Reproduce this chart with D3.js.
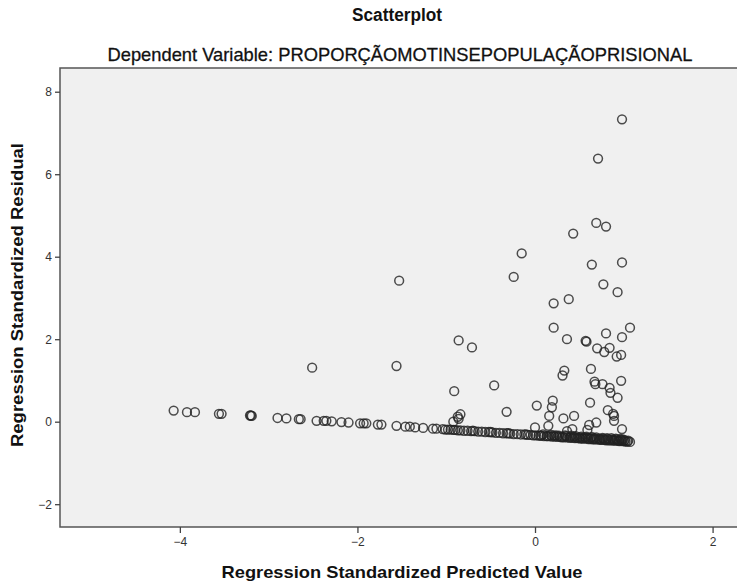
<!DOCTYPE html>
<html>
<head>
<meta charset="utf-8">
<script src="https://cdn.jsdelivr.net/npm/d3@7"></script>
<style>
  body { margin: 0; background: #fff; }
  svg { display: block; font-family: "Liberation Sans", Arial, sans-serif; }
</style>
</head>
<body>
<div id="chart"></div>
<script>
// left tail of the residual line
const tailPredicted = [-4.07, -3.92, -3.83, -3.56, -3.53, -3.21, -3.20, -3.19, -2.90, -2.80, -2.66, -2.64,
  -2.46, -2.38, -2.35, -2.29, -2.18, -2.10, -1.97, -1.93, -1.90, -1.77, -1.73, -1.56, -1.46, -1.41,
  -1.35, -1.26, -1.15, -1.11];
const tailResidual = [0.27, 0.23, 0.23, 0.19, 0.19, 0.15, 0.15, 0.14, 0.09, 0.08, 0.06, 0.06,
  0.02, 0.02, 0.02, 0.01, -0.01, -0.02, -0.04, -0.04, -0.04, -0.07, -0.07, -0.10, -0.12, -0.12,
  -0.14, -0.15, -0.17, -0.17];

// dense band on the right
const bandPredicted = [-1.04, -1.01, -0.98, -0.95, -0.92, -0.90, -0.87, -0.84, -0.80, -0.76, -0.72, -0.68,
  -0.64, -0.60, -0.56, -0.52, -0.48, -0.44, -0.40, -0.36, -0.32, -0.28, -0.24, -0.20, -0.16, -0.12,
  -0.08, -0.05, -0.02, 0.01, 0.04, 0.07, 0.10, 0.13, 0.16, 0.19, 0.22, 0.25, 0.28, 0.30, 0.33, 0.36,
  0.39, 0.42, 0.45, 0.48, 0.51, 0.54, 0.57, 0.60, 0.62, 0.65, 0.68, 0.70, 0.73, 0.75, 0.78, 0.80,
  0.83, 0.85, 0.88, 0.90, 0.93, 0.95, 0.98, 1.00, 1.02, 1.04, 1.07,
  0.21, 0.27, 0.35, 0.40, 0.44, 0.50, 0.56, 0.59, 0.63, 0.67, 0.72, 0.74, 0.77, 0.82, 0.87, 0.89,
  0.92, 0.97, 1.01, 1.05, -0.70, -0.50, -0.30, -0.10, 0.06, 0.14, 0.31, 0.47, 0.53, 0.66, 0.79, 0.94,
  0.09, 0.18, 0.24, 0.34, 0.41, 0.46, 0.52, 0.58, 0.64, 0.69, 0.76, 0.81, 0.86, 0.91, 0.96, 0.99];
const bandResidual = [-0.18, -0.19, -0.19, -0.19, -0.20, -0.20, -0.21, -0.21, -0.22, -0.22, -0.23, -0.23,
  -0.24, -0.24, -0.25, -0.25, -0.26, -0.27, -0.27, -0.28, -0.28, -0.29, -0.30, -0.30, -0.31, -0.31,
  -0.32, -0.32, -0.33, -0.33, -0.34, -0.34, -0.35, -0.35, -0.35, -0.36, -0.36, -0.37, -0.37, -0.38, -0.38, -0.38,
  -0.39, -0.39, -0.40, -0.40, -0.41, -0.41, -0.41, -0.42, -0.42, -0.43, -0.43, -0.43, -0.44, -0.44, -0.44, -0.45,
  -0.45, -0.45, -0.46, -0.46, -0.46, -0.47, -0.47, -0.47, -0.48, -0.48, -0.49,
  -0.33, -0.34, -0.35, -0.37, -0.36, -0.38, -0.38, -0.39, -0.39, -0.40, -0.41, -0.42, -0.41, -0.42, -0.43, -0.44,
  -0.43, -0.44, -0.45, -0.46, -0.22, -0.25, -0.28, -0.31, -0.34, -0.35, -0.37, -0.39, -0.40, -0.42, -0.44, -0.46,
  -0.31, -0.32, -0.33, -0.33, -0.34, -0.35, -0.36, -0.36, -0.37, -0.38, -0.39, -0.40, -0.40, -0.41, -0.42, -0.43];

// scattered cases above the line
const spreadPredicted = [-2.51, -1.56, -1.53, -0.91, -0.46, -0.86, -0.71, -0.24, -0.15, 0.43, 0.69, 0.80,
  0.71, 0.98, 0.64, 0.98, 0.77, 0.93, 0.21, 0.38, 0.21, 0.36, 0.58, 0.57, 0.80, 1.07, 0.98, 0.70,
  0.84, 0.78, 0.92, 0.97, 0.33, 0.31, 0.63, 0.67, 0.68, 0.76, 0.84, 0.85, 0.97, 0.93, 0.62, 0.82,
  0.88, 0.89, 0.89, 0.98, 0.69, 0.61, 0.59, 0.42, 0.36, 0.44, 0.32, 0.16, 0.15, 0.00, 0.02, 0.19,
  0.20, -0.32, -0.84, -0.86, -0.92, -0.87];
const spreadResidual = [1.31, 1.35, 3.42, 0.74, 0.88, 1.97, 1.80, 3.51, 4.08, 4.56, 4.82, 4.73,
  6.38, 7.33, 3.81, 3.86, 3.33, 3.14, 2.87, 2.97, 2.28, 2.00, 1.94, 1.96, 2.14, 2.28, 2.05, 1.78,
  1.79, 1.69, 1.58, 1.62, 1.24, 1.12, 1.28, 0.97, 0.91, 0.91, 0.82, 0.70, 0.99, 0.58, 0.46, 0.28,
  0.19, 0.14, 0.02, -0.18, -0.02, -0.08, -0.20, -0.18, -0.23, 0.14, 0.08, 0.14, -0.10, -0.14, 0.39, 0.35,
  0.51, 0.24, 0.18, 0.07, 0.00, 0.12];

const xTicks = [-4, -2, 0, 2];
const yTicks = [-2, 0, 2, 4, 6, 8];

const width = 737, height = 583;
const plot = { left: 60, right: 737, top: 68, bottom: 527 };

const svg = d3.select("#chart").append("svg")
  .attr("width", width)
  .attr("height", height);

const x = d3.scaleLinear().domain([-5.35, 2.275]).range([plot.left, plot.right]);
const y = d3.scaleLinear().domain([-2.553, 8.575]).range([plot.bottom, plot.top]);

// plot background, right border falls outside the picture
svg.append("rect")
  .attr("x", plot.left)
  .attr("y", plot.top)
  .attr("width", plot.right - plot.left + 4)
  .attr("height", plot.bottom - plot.top)
  .attr("fill", "#f0f0f0")
  .attr("stroke", "#555")
  .attr("stroke-width", 1.5);

// axes
const xAxis = svg.append("g")
  .attr("transform", `translate(0,${plot.bottom})`)
  .call(d3.axisBottom(x).tickValues(xTicks).tickSize(6).tickPadding(4).tickFormat(d3.format("d")));
const yAxis = svg.append("g")
  .attr("transform", `translate(${plot.left},0)`)
  .call(d3.axisLeft(y).tickValues(yTicks).tickSize(5).tickPadding(3).tickFormat(d3.format("d")));

[xAxis, yAxis].forEach(ax => {
  ax.select(".domain").remove();
  ax.selectAll(".tick line").attr("stroke", "#444").attr("stroke-width", 1.3);
  ax.selectAll(".tick text")
    .attr("fill", "#333")
    .style("font-size", "12px")
    .style("font-family", "'Liberation Sans', Arial, sans-serif");
});

// points
const points = [];
tailPredicted.forEach((v, i) => points.push([v, tailResidual[i]]));
bandPredicted.forEach((v, i) => points.push([v, bandResidual[i]]));
spreadPredicted.forEach((v, i) => points.push([v, spreadResidual[i]]));

svg.append("g")
  .selectAll("circle")
  .data(points)
  .enter()
  .append("circle")
  .attr("cx", d => x(d[0]))
  .attr("cy", d => y(d[1]))
  .attr("r", 4.4)
  .attr("fill", "none")
  .attr("stroke", "#222")
  .attr("stroke-opacity", 0.8)
  .attr("stroke-width", 1.5);

// titles
svg.append("text")
  .attr("x", 397)
  .attr("y", 21)
  .attr("text-anchor", "middle")
  .attr("textLength", 90)
  .attr("lengthAdjust", "spacingAndGlyphs")
  .style("font-size", "18px")
  .style("font-weight", "bold")
  .attr("fill", "#111")
  .text("Scatterplot");

svg.append("text")
  .attr("x", 400)
  .attr("y", 61)
  .attr("text-anchor", "middle")
  .attr("textLength", 585)
  .attr("lengthAdjust", "spacingAndGlyphs")
  .style("font-size", "19px")
  .attr("fill", "#111")
  .attr("stroke", "#111")
  .attr("stroke-width", 0.3)
  .text("Dependent Variable: PROPORÇÃOMOTINSEPOPULAÇÃOPRISIONAL");

svg.append("text")
  .attr("x", 402)
  .attr("y", 578)
  .attr("text-anchor", "middle")
  .attr("textLength", 361)
  .attr("lengthAdjust", "spacingAndGlyphs")
  .style("font-size", "17px")
  .style("font-weight", "bold")
  .attr("fill", "#111")
  .text("Regression Standardized Predicted Value");

svg.append("text")
  .attr("transform", "translate(23,295) rotate(-90)")
  .attr("text-anchor", "middle")
  .attr("textLength", 304)
  .attr("lengthAdjust", "spacingAndGlyphs")
  .style("font-size", "17px")
  .style("font-weight", "bold")
  .attr("fill", "#111")
  .text("Regression Standardized Residual");
</script>
</body>
</html>
